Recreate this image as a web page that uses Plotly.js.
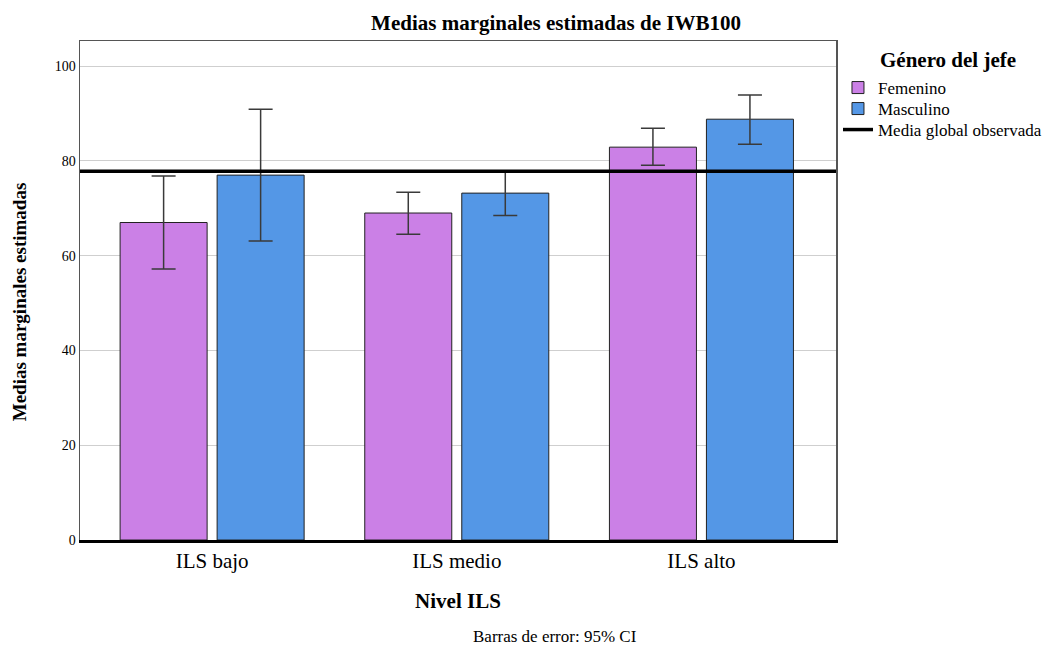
<!DOCTYPE html>
<html>
<head>
<meta charset="utf-8">
<script src="https://cdn.plot.ly/plotly-3.0.1.min.js"></script>
<style>html,body{margin:0;padding:0;background:#fff;}#chart{width:1053px;height:648px;}</style>
</head>
<body>
<div id="chart"></div>
<script>
const categories = ['ILS bajo', 'ILS medio', 'ILS alto'];
const femenino = [67.0, 69.0, 82.9];
const masculino = [77.0, 73.2, 88.8];
const femUpper = [76.8, 73.4, 86.9];
const femLower = [57.2, 64.5, 79.1];
const mascUpper = [90.9, 77.7, 93.9];
const mascLower = [63.1, 68.5, 83.5];
const mediaGlobal = 77.8;
const seriesNames = ['Femenino', 'Masculino', 'Media global observada'];
const yTicks = [0, 20, 40, 60, 80, 100];

const serif = 'Liberation Serif, Times New Roman, serif';
const errStyle = {type: 'data', symmetric: false, color: '#3a3a3a', thickness: 1.5, width: 12};

const traces = [
  {
    type: 'bar', name: seriesNames[0], x: categories, y: femenino, legend: 'legend',
    marker: {color: '#CB80E6', line: {color: '#222', width: 1}},
    error_y: Object.assign({}, errStyle, {
      array: femUpper.map((u, i) => u - femenino[i]),
      arrayminus: femenino.map((m, i) => m - femLower[i])
    })
  },
  {
    type: 'bar', name: seriesNames[1], x: categories, y: masculino, legend: 'legend2',
    marker: {color: '#5497E6', line: {color: '#222', width: 1}},
    error_y: Object.assign({}, errStyle, {
      array: mascUpper.map((u, i) => u - masculino[i]),
      arrayminus: masculino.map((m, i) => m - mascLower[i])
    })
  },
  {
    type: 'scatter', mode: 'lines', name: seriesNames[2], legend: 'legend3',
    x: [0, 1], y: [mediaGlobal, mediaGlobal], xaxis: 'x2',
    line: {color: '#000', width: 3.5}
  }
];

function legendAt(rowY) {
  return {
    xref: 'container', yref: 'container',
    x: 0.7958, xanchor: 'left', y: 1 - rowY / 648, yanchor: 'middle',
    bgcolor: 'rgba(0,0,0,0)',
    font: {family: serif, size: 17, color: '#000'},
    itemwidth: 30
  };
}

const layout = {
  width: 1053, height: 648,
  margin: {l: 80, r: 217, t: 41, b: 108},
  paper_bgcolor: '#fff', plot_bgcolor: '#fff',
  font: {family: serif, color: '#000'},
  title: {text: '<b>Medias marginales estimadas de IWB100</b>', font: {family: serif, size: 21, color: '#000'},
          x: 0.528, xanchor: 'center', y: 0.965, yanchor: 'middle'},
  barmode: 'group', bargap: 0.207, bargroupgap: 0.103,
  xaxis: {
    type: 'category', range: [-0.54, 2.55],
    showline: true, linecolor: '#000', linewidth: 3, mirror: false,
    showgrid: false, ticks: '', zeroline: false,
    tickfont: {family: serif, size: 21, color: '#000'},
    title: {text: '<b>Nivel ILS</b>', font: {family: serif, size: 21, color: '#000'}, standoff: 22},
    automargin: false
  },
  xaxis2: {
    overlaying: 'x', range: [0, 1], side: 'top', fixedrange: true,
    showline: true, linecolor: '#555', linewidth: 1.5,
    showticklabels: false, ticks: '', showgrid: false, zeroline: false
  },
  yaxis: {
    range: [0, 105.3], tickvals: yTicks,
    showgrid: true, gridcolor: '#cfcfcf', gridwidth: 1,
    showline: true, linecolor: '#555', linewidth: 1.5, mirror: true,
    zeroline: false,
    ticks: '',
    tickfont: {family: serif, size: 14, color: '#000'},
    automargin: false
  },
  legend: legendAt(88),
  legend2: legendAt(109),
  legend3: legendAt(130),
  annotations: [
    {
      text: '<b>Medias marginales estimadas</b>', textangle: -90,
      xref: 'paper', yref: 'paper', x: -0.079, y: 0.477, xanchor: 'center', yanchor: 'middle',
      showarrow: false, font: {family: serif, size: 19, color: '#000'}
    },
    {
      text: '<b>Género del jefe</b>', xref: 'paper', yref: 'paper',
      x: 1.0556, y: 0.962, xanchor: 'left', yanchor: 'middle', showarrow: false,
      font: {family: serif, size: 21, color: '#000'}
    },
    {
      text: 'Barras de error: 95% CI', xref: 'paper', yref: 'paper',
      x: 0.628, y: -0.194, xanchor: 'center', yanchor: 'middle', showarrow: false,
      font: {family: serif, size: 17, color: '#000'}
    }
  ],
  showlegend: true
};

Plotly.newPlot('chart', traces, layout, {displayModeBar: false, staticPlot: true});
</script>
</body>
</html>
